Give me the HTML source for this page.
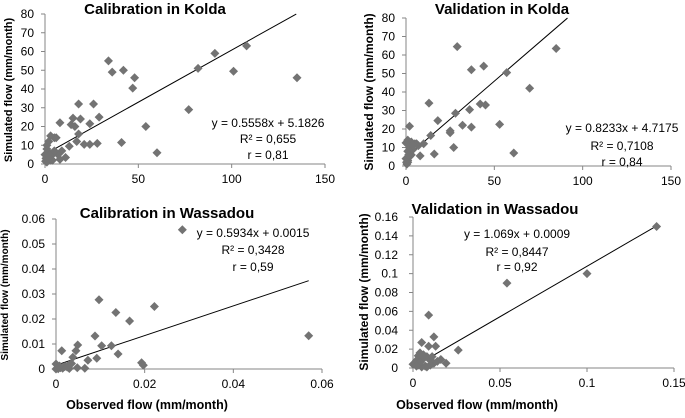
<!DOCTYPE html>
<html><head><meta charset="utf-8"><style>
body{margin:0;background:#fff;}
svg text{font-family:"Liberation Sans",sans-serif;fill:#000;}
</style></head><body>
<svg id="chart" width="685" height="413" viewBox="0 0 685 413" xmlns="http://www.w3.org/2000/svg"></svg>
<script>
const calKoldaX=[135,108,101,91,82,77,60,54,48,47,42,41,36,34,29,28,26,24,24,21,18,18,17,19,16,15,14,13,11,9,8,8,7,6,5,3,2,2,1,0.5,1,3,4,0,1,2,4,0.3,5,1.5];
const calKoldaY=[46,63,49.5,59,51,29,6,20,46,40.5,50,11.5,49,55,25,11,32,21.5,10.5,10.5,32,16,12,24,20,24.5,21,9.5,3.5,7,22,2.5,5,14,14,15,12,6,8,3,1,2,5,5,10,3,2,1.5,7,4];
const valKoldaX=[85,70,61,57,53,44,45,42,37,37,36,32,29,28,27,25,25,18,16,14,13,8,2,10,7,5,3,1,0,1,2,1,0.5,3,2,4,1,0,6,4,0.3,1.5];
const valKoldaY=[63.5,42,7,50.5,22.5,54,33,33.5,52,21,30.5,22,64.5,28.5,10,18,19,24.5,6.5,16.5,34,5.5,21.5,12,11,12,13,14,12.5,8,5,3,1,6,10,9,2,4,12,11,2,6];
const calWasX=[0.0285,0.057,0.0222,0.0166,0.0135,0.0097,0.014,0.0125,0.0103,0.0088,0.0092,0.0072,0.0065,0.0049,0.0045,0.0038,0.0013,0.0193,0.0197,0.0048,0.003,0.0035,0.002,0.001,0,0.0005,0.0028,0.0015,0.0025,0.0032,0.0008,0];
const calWasY=[0.0557,0.0133,0.025,0.0192,0.0226,0.0277,0.006,0.0093,0.0093,0.0132,0.0043,0.0035,0.0003,0.0096,0.0073,0.0047,0.0073,0.0025,0.0015,0.0005,0.0002,0.0022,0.001,0.0005,0.002,0.0001,0.0015,0.0003,0.0008,0.0018,0.0012,0];
const valWasX=[0.14,0.1,0.054,0.026,0.019,0.016,0.013,0.012,0.009,0.009,0.005,0.012,0.01,0.008,0.006,0.004,0.003,0.002,0.001,0.007,0.005,0.003,0,0.01,0.014,0.004,0.006,0.002,0.008,0.011];
const valWasY=[0.15,0.1,0.09,0.019,0.005,0.009,0.023,0.033,0.056,0.023,0.027,0.005,0.003,0.012,0.01,0.016,0.013,0.008,0.005,0.002,0.001,0.003,0.004,0.008,0.007,0.006,0.014,0.002,0.001,0.012];
const koldaXTicks=[0,50,100,150];
const koldaYTicks=[0,10,20,30,40,50,60,70,80];
const calWasXTicks=[0,0.02,0.04,0.06];
const calWasYTicks=[0,0.01,0.02,0.03,0.04,0.05,0.06];
const valWasXTicks=[0,0.05,0.1,0.15];
const valWasYTicks=[0,0.02,0.04,0.06,0.08,0.1,0.12,0.14,0.16];
const fits=[[0.5558,5.1826,134.6],[0.8233,4.7175,91.4],[0.5934,0.0015,0.057],[1.069,0.0009,0.14]];

const svg=document.getElementById('chart');
const NS='http://www.w3.org/2000/svg';
function mk(tag,attrs,parent){const e=document.createElementNS(NS,tag);for(const k in attrs)e.setAttribute(k,attrs[k]);(parent||svg).appendChild(e);return e;}
function txt(s,x,y,size,bold,anchor,parent){const t=mk('text',{x:x,y:y,'font-size':size,'font-weight':bold?'bold':'normal','text-anchor':anchor||'middle'},parent);t.textContent=s;return t;}

function panel(o){
  const g=mk('g',{});
  
  
  const sx=v=>o.x0+(v-o.xt[0])/(o.xt[o.xt.length-1]-o.xt[0])*(o.x1-o.x0);
  const sy=v=>o.y0-(v-o.yt[0])/(o.yt[o.yt.length-1]-o.yt[0])*(o.y0-o.y1);
  const ax=mk('line',{x1:o.x0,y1:o.y0,x2:o.x1,y2:o.y0,stroke:'#868686','stroke-width':1},g);
  
  const ay=mk('line',{x1:o.x0,y1:o.y0,x2:o.x0,y2:o.y1,stroke:'#868686','stroke-width':1},g);
  
  o.xt.forEach(v=>{const X=sx(v);mk('line',{x1:X,y1:o.y0,x2:X,y2:o.y0+4,stroke:'#868686'},g);
    const t=txt(String(v),X,o.y0+19,12,false,'middle',g);});
  o.yt.forEach(v=>{const Y=sy(v);mk('line',{x1:o.x0-4,y1:Y,x2:o.x0,y2:Y,stroke:'#868686'},g);
    const t=txt(String(v),o.ylx,Y+4,12,false,'end',g);});
  const f=o.fit;
  const tl=mk('line',{x1:sx(0),y1:sy(f[1]),x2:sx(f[2]),y2:sy(f[0]*f[2]+f[1]),stroke:'#000','stroke-width':1},g);
  
  o.xs.forEach((xv,i)=>{const X=sx(xv),Y=sy(o.ys[i]);
    const p=mk('polygon',{points:`${X},${Y-4.5} ${X+4.5},${Y} ${X},${Y+4.5} ${X-4.5},${Y}`,fill:'#737373'},g);
    });
  const t=txt(o.title,o.tx,o.ty,15,true,'middle',g);
  const yt=txt('Simulated flow (mm/month)',0,0,o.ysz,true,'middle',g);
  yt.setAttribute('transform',`translate(${o.yax},${o.yay}) rotate(-90)`);
  
  if(o.xtitle){const xt=txt('Observed flow (mm/month)',o.xtx,o.xty,12.5,true,'middle',g);}
  o.eq.forEach((s,i)=>{const e=txt(s,o.ex,o.ey[i],12,false,'middle',g);});
}
panel({name:'calibration-kolda-panel',x0:45,x1:325,y0:164,y1:14,xt:koldaXTicks,yt:koldaYTicks,xs:calKoldaX,ys:calKoldaY,fit:fits[0],ylx:34,title:'Calibration in Kolda',tx:155,ty:14,ysz:11,yax:12,yay:90,eq:['y = 0.5558x + 5.1826','R² = 0,655','r = 0,81'],ex:268,ey:128,ey:[127,143,159]});
panel({name:'validation-kolda-panel',x0:406,x1:671,y0:166,y1:18,xt:koldaXTicks,yt:koldaYTicks,xs:valKoldaX,ys:valKoldaY,fit:fits[1],ylx:395,title:'Validation in Kolda',tx:502,ty:14,ysz:12,yax:373,yay:92,eq:['y = 0.8233x + 4.7175','R² = 0,7108','r = 0,84'],ex:622,ey:[132,150,166]});
panel({name:'calibration-wassadou-panel',x0:56,x1:322,y0:369,y1:219,xt:calWasXTicks,yt:calWasYTicks,xs:calWasX,ys:calWasY,fit:fits[2],ylx:45,title:'Calibration in Wassadou',tx:167,ty:218,ysz:10,yax:8,yay:295,xtitle:true,xtx:147,xty:409,eq:['y = 0.5934x + 0.0015','R² = 0,3428','r = 0,59'],ex:253,ey:[237,254,271]});
panel({name:'validation-wassadou-panel',x0:413,x1:674,y0:368,y1:217,xt:valWasXTicks,yt:valWasYTicks,xs:valWasX,ys:valWasY,fit:fits[3],ylx:398,title:'Validation in Wassadou',tx:495,ty:214,ysz:12,yax:368,yay:292,xtitle:true,xtx:477,xty:409,eq:['y = 1.069x + 0.0009','R² = 0,8447','r = 0,92'],ex:517,ey:[238,256,271]});
</script>
</body></html>
